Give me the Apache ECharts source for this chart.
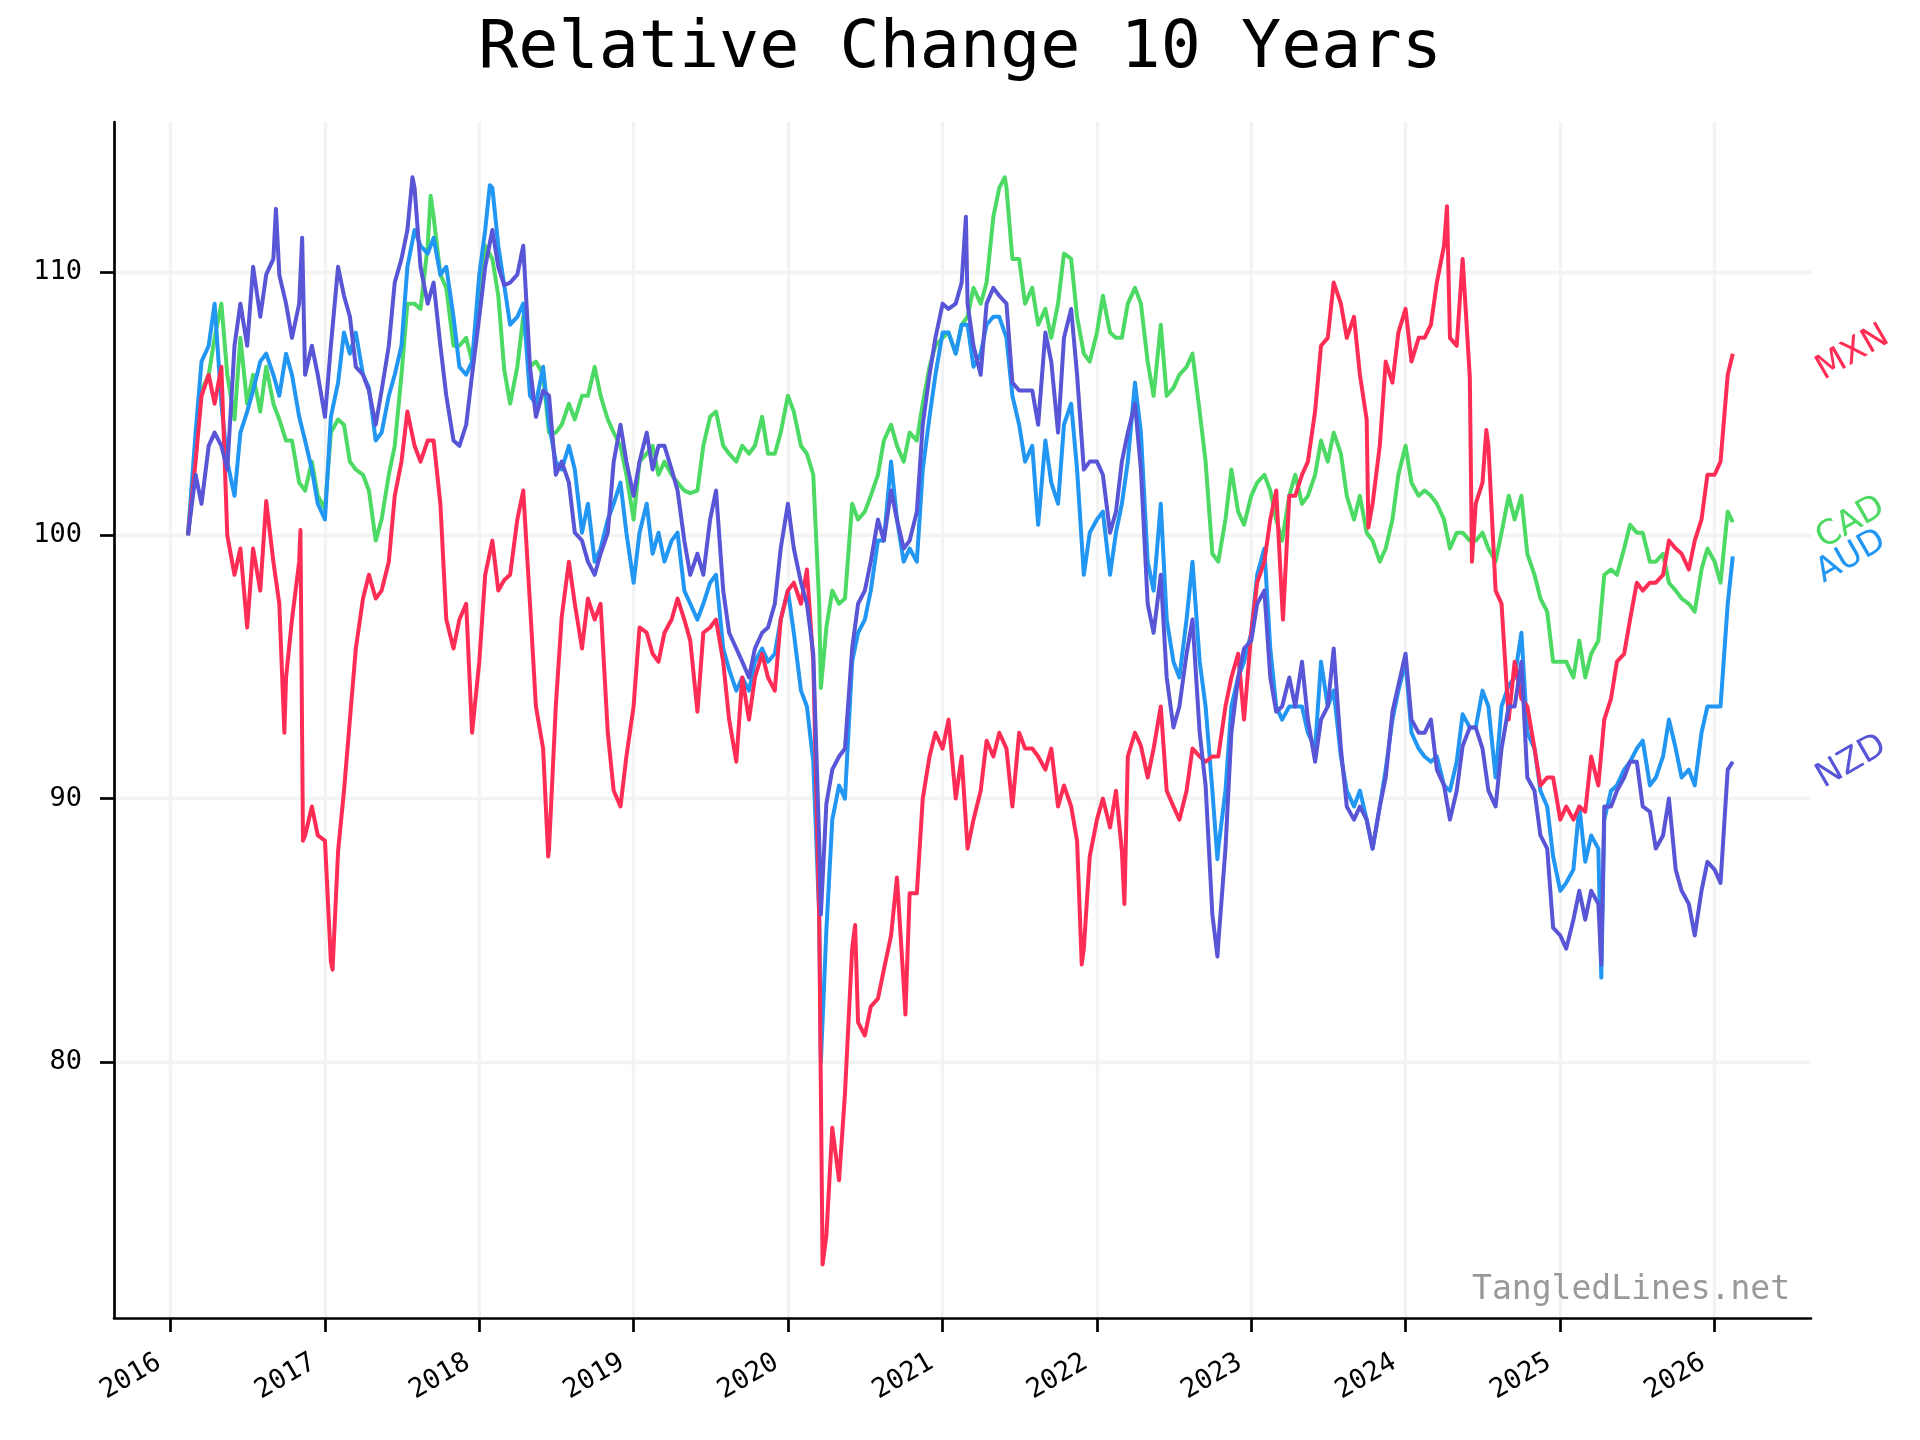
<!DOCTYPE html>
<html>
<head>
<meta charset="utf-8">
<script src="https://cdn.jsdelivr.net/npm/echarts@6/dist/echarts.min.js"></script>
<style>html,body{margin:0;padding:0;background:#fff}#c{width:1920px;height:1440px}</style>
</head>
<body>
<div id="c"></div>
<script>
// ---- data ----
const seriesNames = ['MXN', 'CAD', 'AUD', 'NZD'];
const seriesColors = ['#ff2d55', '#4cd964', '#2196f3', '#5856d6'];
const yearTicks = ['2016','2017','2018','2019','2020','2021','2022','2023','2024','2025','2026'];
const yTicks = [80, 90, 100, 110];
const xRange = ['2015-08-21', '2026-08-17'];
const yRange = [70.27, 115.7];

// half-monthly sample dates (1st and 15th), first and last trading days
const dates = ['2016-02-12'];
for (let y = 2016; y <= 2026; y++) {
  for (let m = 1; m <= 12; m++) {
    if (y === 2016 && m < 3) continue;
    if (y === 2026 && m > 2) break;
    const mm = String(m).padStart(2, '0');
    dates.push(y + '-' + mm + '-01');
    if (!(y === 2026 && m === 2)) dates.push(y + '-' + mm + '-15');
  }
}
dates.push('2026-02-13');

const mxn = [
  100,102.8,105.3,106.1,105,106.4,100,98.5,99.5,96.5,99.5,97.9,101.3,99,97.4,94.6,96.8,99,88.6,89.7,88.6,
  88.4,83.8,88,90.3,93,95.7,97.6,98.5,97.6,97.9,99,101.5,102.8,104.7,103.4,102.8,103.6,103.6,101.2,96.8,95.7,96.8,97.4,92.5,
  95.2,98.5,99.8,97.9,98.3,98.5,100.6,101.7,97.4,93.5,91.9,88.1,93.5,96.9,99,97.4,95.7,97.6,96.8,97.4,92.5,90.3,89.7,91.6,
  93.5,96.5,96.3,95.5,95.2,96.3,96.8,97.6,96.8,96,93.3,96.3,96.5,96.8,95.2,93,91.4,94.6,93,94.6,95.5,94.6,94.1,96.8,
  97.9,98.2,97.4,98.7,95.2,85.6,73.4,77.5,75.5,78.8,84.3,81.5,81,82.1,82.4,83.5,84.8,87,82.9,86.4,86.4,90,91.6,92.5,
  91.9,93,90,91.6,88.1,89.2,90.3,92.2,91.6,92.5,91.9,89.7,92.5,91.9,91.9,91.6,91.1,91.9,89.7,90.5,89.7,88.4,84.3,87.8,
  89.2,90,88.9,90.3,88,91.6,92.5,92,90.8,91.9,93.5,90.3,89.7,89.2,90.3,91.9,91.6,91.4,91.6,91.6,93.5,94.6,95.5,93,
  96.3,98.2,99,100.6,101.7,97.4,101.5,101.5,102.3,102.8,104.7,107.2,107.5,109.6,108.8,107.5,108.3,106.1,104.4,101.2,103.4,106.6,105.8,107.7,
  108.6,106.6,107.5,107.5,108,109.6,111,107.5,107.2,110.5,106,101.2,102,103.4,97.9,97.4,93,95.2,93.8,93.5,91.9,90.5,90.8,90.8,
  89.2,89.7,89.2,89.7,89.5,91.6,90.5,93,93.8,95.2,95.5,96.8,98.2,97.9,98.2,98.2,98.5,99.8,99.5,99.3,98.7,99.8,100.6,102.3,
  102.3,102.8,106.1,106.9
];
const cad = [
  100,103.4,105.5,106.1,107.5,108.8,106.1,104.4,107.5,105,106.1,104.7,106.4,105,104.4,103.6,103.6,102,101.7,102.8,101.5,
  101,103.9,104.4,104.2,102.8,102.5,102.3,101.7,99.8,100.6,102.3,103.4,106.1,108.8,108.8,108.6,111,112.1,109.9,109.4,107.2,107.2,107.5,106.6,
  108.8,111,110.5,109.1,106.3,105,106.4,108.3,106.4,106.6,106.1,103.9,103.9,104.2,105,104.4,105.3,105.3,106.4,105.3,104.4,103.9,103.4,102.3,
  100.6,102.8,103.1,103.4,102.3,102.8,102.3,102,101.7,101.6,101.7,103.4,104.5,104.7,103.4,103.1,102.8,103.4,103.1,103.4,104.5,103.1,103.1,103.9,
  105.3,104.7,103.4,103.1,102.3,97.4,96.5,97.9,97.4,97.6,101.2,100.6,100.9,101.5,102.3,103.6,104.2,103.4,102.8,103.9,103.6,105,106.4,107.2,
  107.5,107.7,106.9,108,108.3,109.4,108.8,109.6,112.1,113.2,113.2,110.5,110.5,108.8,109.4,108,108.6,107.5,108.8,110.7,110.5,108.3,106.9,106.6,
  107.7,109.1,107.7,107.5,107.5,108.8,109.4,108.8,106.6,105.3,108,105.3,105.6,106.1,106.4,106.9,104.7,102.8,99.3,99,100.6,102.5,100.9,100.4,
  101.5,102,102.3,101.7,100.6,99.8,101.5,102.3,101.2,101.5,102.3,103.6,102.8,103.9,103.1,101.5,100.6,101.5,100.1,99.8,99,99.5,100.6,102.3,
  103.4,102,101.5,101.7,101.5,101.2,100.6,99.5,100.1,100.1,99.8,99.8,100.1,99.5,99,100.1,101.5,100.6,101.5,99.3,98.5,97.6,97.1,95.2,
  95.2,95.2,94.6,96,94.6,95.5,96,98.5,98.7,98.5,99.5,100.4,100.1,100.1,99,99,99.3,98.2,97.9,97.6,97.4,97.1,98.7,99.5,
  99,98.2,100.9,100.5
];
const aud = [
  100,103.9,106.6,107.2,108.8,105,102.8,101.5,103.9,104.7,105.5,106.6,106.9,106.1,105.3,106.9,106.1,104.5,103.6,102.5,101.2,
  100.6,104.5,105.8,107.7,106.9,107.7,106.1,105.6,103.6,103.9,105.3,106.1,107.2,110.2,111.6,111,110.7,111.3,109.9,110.2,108.3,106.4,106.1,106.6,
  109.9,111.6,113.2,111,109.5,108,108.3,108.8,105.3,105,106.4,104.2,102.8,102.5,103.4,102.5,100.1,101.2,99,99.5,100.6,101.2,102,100.1,
  98.2,100.1,101.2,99.3,100.1,99,99.8,100.1,97.9,97.4,96.8,97.4,98.2,98.5,95.7,94.9,94.1,94.6,94.1,95.2,95.7,95.2,95.5,96.8,
  97.9,96.3,94.1,93.5,91.4,85.6,85,89.2,90.5,90,95.2,96.3,96.8,97.9,99.8,99.8,102.8,100.6,99,99.5,99,102.5,104.5,106.1,
  107.7,107.7,106.9,108,108,106.4,106.9,108,108.3,108.3,107.5,105.3,104.2,102.8,103.4,100.4,103.6,102,101.2,104.2,105,102.5,98.5,100.1,
  100.6,100.9,98.5,100.1,101.2,102.8,105.8,103.9,99,97.9,101.2,96.8,95.2,94.6,96.8,99,95.2,93.5,90.3,88.1,90.3,93.5,94.6,95.2,
  96.3,98.5,99.5,95.7,93.5,93,93.5,93.5,93.5,92.5,91.9,95.2,93.5,94.1,91.6,90.3,89.7,90.3,89.2,88.1,89.7,91.1,93,94.1,
  95.2,92.5,91.9,91.6,91.4,91.6,90.5,90.3,91.4,93.2,92.7,92.7,94.1,93.5,90.8,93.5,94.3,94.6,96.3,92.5,91.9,90.3,89.7,87.8,
  86.5,86.8,87.3,89.7,87.6,88.6,88.1,89.2,90.3,90.5,91.1,91.4,91.9,92.2,90.5,90.8,91.6,93,91.9,90.8,91.1,90.5,92.5,93.5,
  93.5,93.5,97.4,99.2
];
const nzd = [
  100,102.3,101.2,103.4,103.9,103.4,102.5,107.2,108.8,107.2,110.2,108.3,109.9,110.5,109.9,108.8,107.5,108.8,106.1,107.2,106.1,
  104.5,107.2,110.2,109.1,108.3,106.4,106.1,105.5,104.2,105.5,107.2,109.6,110.5,111.6,113.2,110.2,108.8,109.6,107.2,105.3,103.6,103.4,104.2,106.1,
  108.3,110.2,111.6,110.2,109.5,109.6,109.9,111,106.4,104.5,105.5,105.3,102.3,102.8,102,100.1,99.8,99,98.5,99.3,100.1,102.8,104.2,102.8,
  101.5,102.8,103.9,102.5,103.4,103.4,102.5,101.7,99.8,98.5,99.3,98.5,100.6,101.7,97.9,96.3,95.7,95.2,94.6,95.7,96.3,96.5,97.4,99.5,
  101.2,99.5,98.2,97.4,95.5,88.4,89.8,91.1,91.6,91.9,95.7,97.4,97.9,99,100.6,99.8,101.7,100.6,99.5,99.8,100.9,104.2,106.1,107.5,
  108.8,108.6,108.8,109.6,108.8,107.2,106.1,108.8,109.4,109.1,108.8,105.8,105.5,105.5,105.5,104.2,107.7,106.6,103.9,107.5,108.6,106.1,102.5,102.8,
  102.8,102.3,100.1,100.9,102.8,103.9,105,102.5,97.4,96.3,98.5,94.6,92.7,93.5,95.5,96.8,92.5,90.5,85.6,84.5,88.1,92.5,94.6,95.7,
  96,97.4,97.9,94.6,93.3,93.5,94.6,93.5,95.2,93,91.4,93,93.5,95.7,91.9,89.7,89.2,89.7,89.2,88.1,89.7,90.8,93.3,94.3,
  95.5,93,92.5,92.5,93,91.1,90.5,89.2,90.3,92,92.7,92.7,91.9,90.3,89.7,91.9,93.5,93.5,95.2,90.8,90.3,88.6,88.1,85.1,
  84.8,84.3,85.4,86.5,85.4,86.5,86,89.7,89.7,90.3,90.8,91.4,91.4,89.7,89.5,88.1,88.6,90,87.3,86.5,86,84.8,86.5,87.6,
  87.3,86.8,91.1,91.4
];

// extra readings at sharp spikes
const mxnExtra = [['2016-09-27',92.5],['2016-11-04',100.2],['2016-11-10',88.4],['2017-01-19',83.5],['2018-06-13',87.8],
  ['2020-03-23',72.3],['2020-06-08',85.2],['2020-10-05',81.8],['2021-11-26',83.7],['2022-03-07',86.0],['2023-03-17',96.8],
  ['2023-10-05',100.3],['2024-04-08',112.5],['2024-06-06',99.0],['2024-07-10',104.0]];
const cadExtra = [['2017-09-08',112.9],['2020-03-19',94.2],['2021-05-28',113.6]];
const audExtra = [['2018-01-26',113.3],['2020-03-19',80.0],['2022-10-13',87.7],['2025-04-08',83.2]];
const nzdExtra = [['2016-09-07',112.4],['2016-11-08',111.3],['2017-07-27',113.6],['2020-03-19',85.6],
  ['2021-02-25',112.1],['2022-10-13',84.0],['2025-04-08',83.7]];

// ---- build ----
const tp = s => echarts.time.parse(s).getTime();
const valueSets = {MXN: [mxn, mxnExtra], CAD: [cad, cadExtra], AUD: [aud, audExtra], NZD: [nzd, nzdExtra]};
function build(vals, extra) {
  const pts = dates.map((d, i) => [d, vals[i]]).concat(extra);
  pts.sort((a, b) => (a[0] < b[0] ? -1 : a[0] > b[0] ? 1 : 0));
  return pts.map(p => [tp(p[0]), p[1]]);
}
const colorOf = {};
seriesNames.forEach((n, i) => colorOf[n] = seriesColors[i]);
const drawOrder = ['CAD', 'AUD', 'MXN', 'NZD'];

const yearTickValues = yearTicks.map(y => tp(y + '-01-01'));
const mono = 'DejaVu Sans Mono';

const chart = echarts.init(document.getElementById('c'), null, {renderer: 'canvas'});
const option = {
  animation: false,
  backgroundColor: '#ffffff',
  title: {
    text: 'Relative Change 10 Years',
    left: 'center', top: 11,
    textStyle: {fontFamily: mono, fontSize: 66.7, fontWeight: 'normal', color: '#000'}
  },
  grid: {left: 114, right: 109, top: 122, bottom: 122, containLabel: false},
  xAxis: {
    type: 'value',
    min: tp(xRange[0]), max: tp(xRange[1]),
    axisLine: {onZero: false, lineStyle: {color: '#000', width: 2.7}},
    axisTick: {show: true, length: 14, customValues: yearTickValues, lineStyle: {color: '#000', width: 2.7}},
    axisLabel: {
      customValues: yearTickValues, rotate: 30, margin: 36, padding: [0, 13, 0, 0],
      formatter: v => String(new Date(v).getFullYear()),
      fontFamily: mono, fontSize: 27, color: '#000'
    },
    splitLine: {show: true, lineStyle: {color: '#f3f3f3', width: 3.3}}
  },
  yAxis: {
    type: 'value',
    min: yRange[0], max: yRange[1],
    axisLine: {show: true, lineStyle: {color: '#000', width: 2.7}},
    axisTick: {show: true, length: 14, customValues: yTicks, lineStyle: {color: '#000', width: 2.7}},
    axisLabel: {customValues: yTicks, margin: 32, fontFamily: mono, fontSize: 27, color: '#000'},
    splitLine: {show: true, lineStyle: {color: '#f3f3f3', width: 3.3}}
  },
  series: drawOrder.map(n => ({
    name: n, type: 'line', showSymbol: false, symbol: 'none',
    lineStyle: {width: 4, color: colorOf[n], join: 'round'}, itemStyle: {color: colorOf[n]},
    data: build(valueSets[n][0], valueSets[n][1])
  })),
  graphic: [{
    type: 'text', id: 'wm', right: 130, bottom: 133, z: 100,
    style: {text: 'TangledLines.net', fill: '#999999', fontFamily: mono, fontSize: 33}
  }]
};
chart.setOption(option);

// currency labels to the right of the plot, centred on each series' last value
const endX = chart.convertToPixel({gridIndex: 0}, [tp(xRange[1]), 100])[0];
const labelEls = seriesNames.map(n => {
  const vals = valueSets[n][0];
  const py = chart.convertToPixel({gridIndex: 0}, [tp(xRange[1]), vals[vals.length - 1]])[1];
  return {
    type: 'text', id: 'lab_' + n, x: endX + 8, y: py + 19, rotation: Math.PI / 6, z: 100,
    style: {text: n, fill: colorOf[n], fontFamily: 'DejaVu Sans', fontSize: 34, align: 'left', verticalAlign: 'middle'}
  };
});
chart.setOption({graphic: labelEls});
</script>
</body>
</html>
